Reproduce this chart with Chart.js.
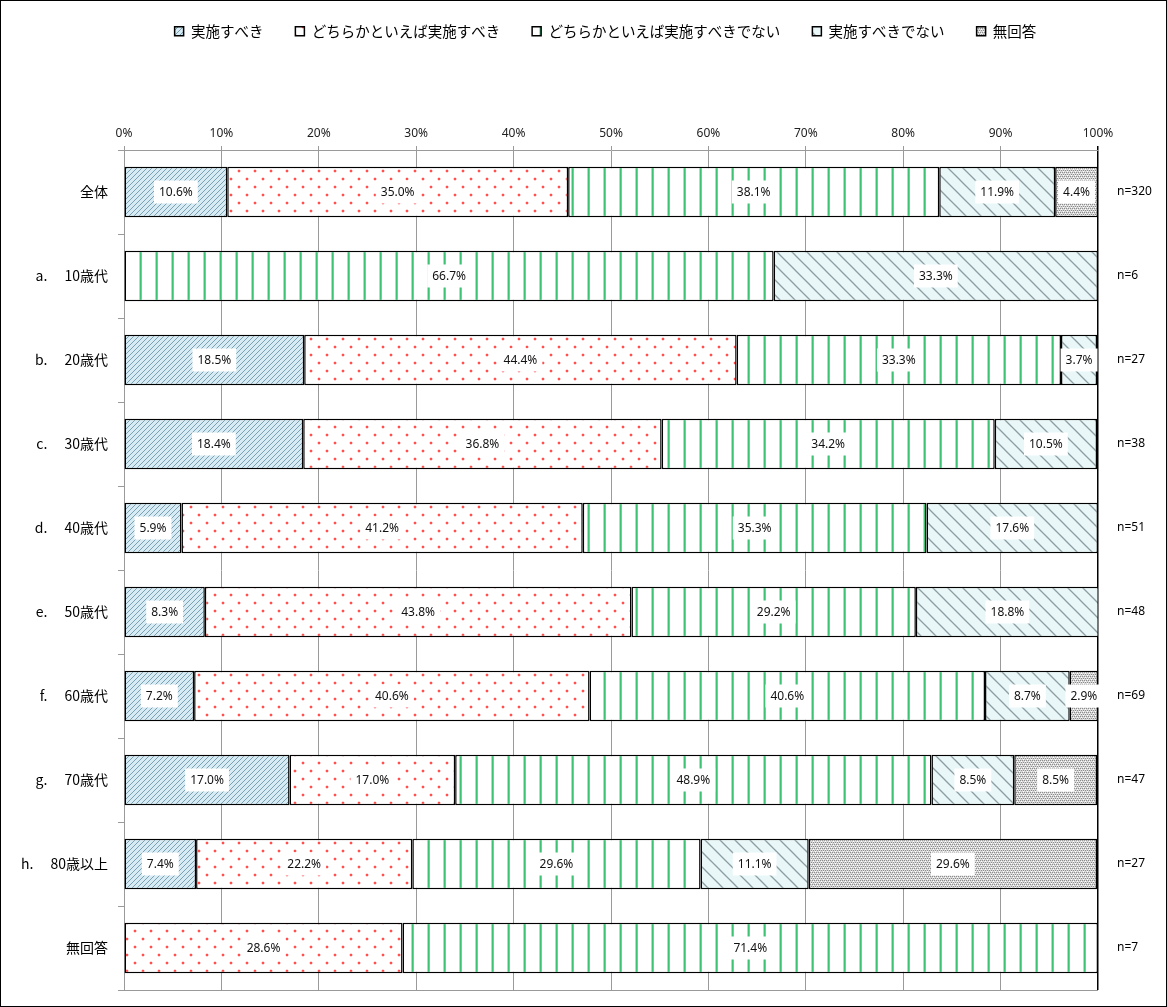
<!DOCTYPE html>
<html><head><meta charset="utf-8">
<script src="https://cdn.jsdelivr.net/npm/chart.js@4.4.0/dist/chart.umd.min.js"></script>
<style>html,body{margin:0;padding:0;background:#fff}</style>
</head><body>
<canvas id="c" width="1167" height="1007"></canvas>
<script>
const categories = ['全体','a.　 10歳代','b.　 20歳代','c.　 30歳代','d.　 40歳代','e.　 50歳代','f.　 60歳代','g.　 70歳代','h.　 80歳以上','無回答'];
const nLabels = ['n=320','n=6','n=27','n=38','n=51','n=48','n=69','n=47','n=27','n=7'];
const seriesNames = ['実施すべき','どちらかといえば実施すべき','どちらかといえば実施すべきでない','実施すべきでない','無回答'];
const s1 = [10.6, null, 18.5, 18.4, 5.9, 8.3, 7.2, 17.0, 7.4, null];
const s2 = [35.0, null, 44.4, 36.8, 41.2, 43.8, 40.6, 17.0, 22.2, 28.6];
const s3 = [38.1, 66.7, 33.3, 34.2, 35.3, 29.2, 40.6, 48.9, 29.6, 71.4];
const s4 = [11.9, 33.3, 3.7, 10.5, 17.6, 18.8, 8.7, 8.5, 11.1, null];
const s5 = [4.4, null, null, null, null, null, 2.9, 8.5, 29.6, null];
const xTickValues = [0,10,20,30,40,50,60,70,80,90,100];

const FONT = '"Noto Sans CJK JP", "Noto Sans", sans-serif';
const LATIN = '"Noto Sans", "Noto Sans CJK JP", sans-serif';

function tile(w, h, draw, dx, dy) {
  const c = document.createElement('canvas');
  c.width = w; c.height = h;
  const g = c.getContext('2d');
  draw(g, w, h);
  const p = document.getElementById('c').getContext('2d').createPattern(c, 'repeat');
  if (dx || dy) p.setTransform(new DOMMatrix([1, 0, 0, 1, dx || 0, dy || 0]));
  return p;
}
const pat1 = tile(5, 5, (g, w, h) => {
  g.fillStyle = '#d6ebf3'; g.fillRect(0, 0, w, h);
  g.strokeStyle = '#7aa0b2'; g.lineWidth = 1;
  g.beginPath(); g.moveTo(-1, h + 1); g.lineTo(w + 1, -1); g.stroke();
  g.beginPath(); g.moveTo(-1, 1); g.lineTo(1, -1); g.stroke();
  g.beginPath(); g.moveTo(w - 1, h + 1); g.lineTo(w + 1, h - 1); g.stroke();
});
const pat2 = tile(16, 16, (g, w, h) => {
  g.fillStyle = '#ffffff'; g.fillRect(0, 0, w, h);
  g.fillStyle = '#ffd6d6';
  g.fillRect(1, 2, 4, 2); g.fillRect(2, 1, 2, 4);
  g.fillRect(9, 10, 4, 2); g.fillRect(10, 9, 2, 4);
  g.fillStyle = '#ff5050';
  g.fillRect(2, 2, 2, 2); g.fillRect(10, 10, 2, 2);
}, 4, 0);
const pat3 = tile(16, 4, (g, w, h) => {
  g.fillStyle = '#ffffff'; g.fillRect(0, 0, w, h);
  g.fillStyle = '#a6e2bd'; g.fillRect(0, 0, 3, h);
  g.fillStyle = '#3cc272'; g.fillRect(1, 0, 1.5, h);
}, 11, 0);
const pat4 = tile(15, 15, (g, w, h) => {
  g.fillStyle = '#e9f7f8'; g.fillRect(0, 0, w, h);
  g.strokeStyle = '#8d9ea3'; g.lineWidth = 1.3;
  g.beginPath(); g.moveTo(-1, -1); g.lineTo(w + 1, h + 1); g.stroke();
  g.beginPath(); g.moveTo(w - 1, -1); g.lineTo(w + 1, 1); g.stroke();
  g.beginPath(); g.moveTo(-1, h - 1); g.lineTo(1, h + 1); g.stroke();
});
const pat5 = tile(4, 4, (g, w, h) => {
  g.fillStyle = '#d8d8d8'; g.fillRect(0, 0, w, h);
  g.fillStyle = '#8c8c8c';
  g.fillRect(0, 0, 1, 1); g.fillRect(2, 0, 1, 1); g.fillRect(1, 2, 1, 1); g.fillRect(3, 2, 1, 1);
  g.fillStyle = '#ffffff';
  g.fillRect(1, 1, 1, 1); g.fillRect(3, 3, 1, 1);
});
const patterns = [pat1, pat2, pat3, pat4, pat5];
const seriesData = [s1, s2, s3, s4, s5];

const datasets = seriesNames.map((name, i) => ({
  label: name,
  data: seriesData[i],
  backgroundColor: patterns[i],
  borderColor: '#000',
  borderWidth: 1.5,
  borderSkipped: false,
  barPercentage: 0.6,
  categoryPercentage: 1.0
}));

const valueLabels = {
  id: 'valueLabels',
  afterDatasetsDraw(chart) {
    const ctx = chart.ctx;
    ctx.save();
    ctx.font = '12px ' + LATIN;
    ctx.textAlign = 'center';
    ctx.textBaseline = 'middle';
    chart.data.datasets.forEach((ds, di) => {
      const meta = chart.getDatasetMeta(di);
      meta.data.forEach((bar, i) => {
        const v = ds.data[i];
        if (v == null) return;
        const p = bar.getProps(['x', 'y', 'base'], true);
        const cx = (p.x + p.base) / 2;
        const t = v.toFixed(1) + '%';
        const w = ctx.measureText(t).width;
        ctx.fillStyle = '#fff';
        ctx.fillRect(cx - w / 2 - 5, p.y - 11.5, w + 10, 23);
        ctx.fillStyle = '#111';
        ctx.fillText(t, cx, p.y + 0.5);
      });
    });
    ctx.restore();
  }
};

const legendShift = {
  id: 'legendShift',
  afterLayout(chart) {
    const l = chart.legend;
    if (!l || l._shifted) return;
    l.left += 22; l.right += 22;
    l.top -= 8; l.bottom -= 8;
    l._shifted = true;
  }
};

const frame = {
  id: 'frame',
  afterDraw(chart) {
    const ctx = chart.ctx;
    const a = chart.chartArea;
    ctx.save();
    ctx.strokeStyle = '#999';
    ctx.lineWidth = 1;
    ctx.beginPath(); ctx.moveTo(a.left, Math.round(a.bottom) + 0.5); ctx.lineTo(a.right, Math.round(a.bottom) + 0.5); ctx.stroke();
    ctx.strokeStyle = '#000';
    ctx.lineWidth = 1;
    ctx.strokeRect(0.5, 0.5, chart.width - 1, chart.height - 1);
    ctx.restore();
  }
};

new Chart(document.getElementById('c'), {
  type: 'bar',
  data: { labels: categories, datasets },
  options: {
    responsive: false,
    animation: false,
    indexAxis: 'y',
    layout: { padding: { top: 0, left: 0, right: 0, bottom: 17 } },
    plugins: {
      legend: {
        position: 'top',
        labels: {
          boxWidth: 9, boxHeight: 9, padding: 32,
          color: '#000',
          font: { family: FONT, size: 14.5 }
        }
      },
      tooltip: { enabled: false }
    },
    scales: {
      x: {
        position: 'top',
        stacked: true,
        min: 0, max: 100,
        afterBuildTicks(scale) { scale.ticks = xTickValues.map(v => ({ value: v })); },
        afterFit(scale) { scale.height = 93.5; },
        ticks: {
          callback: v => v + '%',
          color: '#222',
          font: { family: LATIN, size: 12 },
          padding: 5,
          maxRotation: 0
        },
        grid: {
          color: ctx => (ctx.tick && ctx.tick.value === 100) ? '#000' : '#9a9a9a',
          lineWidth: ctx => (ctx.tick && ctx.tick.value === 100) ? 1.5 : 1,
          tickLength: 4
        },
        border: { color: '#9a9a9a', width: 1 }
      },
      y: {
        stacked: true,
        afterFit(scale) { scale.width = 124; },
        ticks: {
          color: '#000',
          font: { family: FONT, size: 14, lineHeight: 1 },
          padding: 10
        },
        grid: { drawOnChartArea: false, tickLength: 6, color: '#9a9a9a' },
        border: { color: '#9a9a9a', width: 1 }
      },
      y2: {
        type: 'category',
        labels: nLabels,
        position: 'right',
        offset: true,
        afterFit(scale) { scale.width = 69; },
        ticks: {
          color: '#000',
          font: { family: LATIN, size: 12, lineHeight: 1 },
          padding: 2
        },
        grid: { display: true, drawOnChartArea: false, drawTicks: true, tickLength: 17, color: 'rgba(0,0,0,0)' },
        border: { display: false }
      }
    }
  },
  plugins: [valueLabels, legendShift, frame]
});
</script>
</body></html>
